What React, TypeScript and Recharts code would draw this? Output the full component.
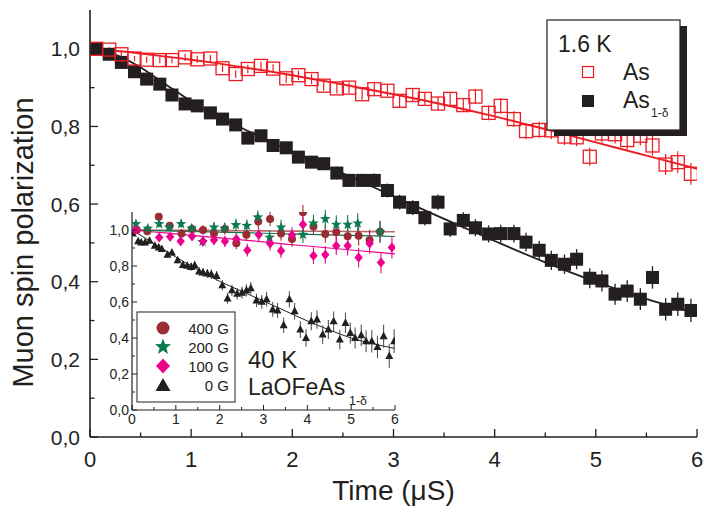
import React from "react";
import { ComposedChart, Line, Scatter, XAxis, YAxis, ErrorBar } from "recharts";

const FONT = '"Liberation Sans", Arial, Helvetica, sans-serif';
const INK = "#231f20";
const RED = "#ed1c24";
const BROWN = "#9b2c34";
const GREEN = "#0b7a4f";
const PINK = "#ec008c";

// main panel, 1.6 K
const TIME = [
  0.06, 0.19, 0.31, 0.44, 0.56, 0.69, 0.81, 0.94, 1.06, 1.19, 1.31, 1.44, 1.56, 1.69, 1.81, 1.94,
  2.06, 2.19, 2.31, 2.44, 2.56, 2.69, 2.81, 2.94, 3.06, 3.19, 3.31, 3.44, 3.56, 3.69, 3.81, 3.94,
  4.06, 4.19, 4.31, 4.44, 4.56, 4.69, 4.81, 4.94, 5.06, 5.19, 5.31, 5.44, 5.56, 5.69, 5.81, 5.94,
];
const AS = [
  1.0, 0.998, 0.986, 0.975, 0.972, 0.971, 0.971, 0.978, 0.973, 0.975, 0.95, 0.935, 0.948, 0.956, 0.949, 0.924,
  0.932, 0.922, 0.905, 0.898, 0.9, 0.883, 0.896, 0.892, 0.866, 0.881, 0.871, 0.859, 0.871, 0.855, 0.877, 0.835,
  0.853, 0.819, 0.788, 0.791, 0.79, 0.774, 0.772, 0.722, 0.782, 0.78, 0.765, 0.776, 0.751, 0.702, 0.708, 0.678,
];
const AS_ERR = [
  0.006, 0.006, 0.007, 0.007, 0.008, 0.008, 0.008, 0.009, 0.009, 0.009, 0.01, 0.01, 0.011, 0.011, 0.011, 0.012,
  0.012, 0.013, 0.013, 0.013, 0.014, 0.014, 0.015, 0.015, 0.016, 0.016, 0.017, 0.017, 0.018, 0.018, 0.019, 0.019,
  0.02, 0.02, 0.021, 0.021, 0.022, 0.022, 0.023, 0.023, 0.024, 0.024, 0.025, 0.025, 0.026, 0.027, 0.028, 0.028,
];
const AS_DEF = [
  1.0, 0.986, 0.965, 0.941, 0.922, 0.909, 0.881, 0.858, 0.853, 0.835, 0.819, 0.804, 0.77, 0.776, 0.751, 0.745,
  0.721, 0.708, 0.704, 0.68, 0.661, 0.661, 0.661, 0.635, 0.605, 0.591, 0.565, 0.605, 0.536, 0.558, 0.539, 0.523,
  0.524, 0.524, 0.502, 0.481, 0.455, 0.445, 0.458, 0.409, 0.402, 0.368, 0.376, 0.355, 0.411, 0.329, 0.342, 0.326,
];
const AS_DEF_ERR = [
  0.007, 0.007, 0.008, 0.008, 0.009, 0.009, 0.01, 0.01, 0.011, 0.011, 0.012, 0.012, 0.013, 0.013, 0.014, 0.014,
  0.015, 0.015, 0.016, 0.016, 0.017, 0.017, 0.018, 0.018, 0.019, 0.019, 0.02, 0.02, 0.021, 0.021, 0.022, 0.022,
  0.023, 0.023, 0.024, 0.024, 0.025, 0.025, 0.026, 0.026, 0.027, 0.027, 0.028, 0.028, 0.029, 0.029, 0.03, 0.03,
];
const FIT_TIME = [0, 0.25, 0.5, 0.75, 1, 1.25, 1.5, 2, 2.5, 3, 3.5, 4, 4.5, 5, 5.5, 6];
const AS_FIT = [1.0, 0.995, 0.988, 0.98, 0.972, 0.963, 0.953, 0.932, 0.908, 0.883, 0.856, 0.826, 0.793, 0.759, 0.725, 0.691];
const AS_DEF_FIT = [1.0, 0.985, 0.952, 0.908, 0.865, 0.828, 0.796, 0.735, 0.679, 0.62, 0.562, 0.505, 0.45, 0.4, 0.356, 0.318];

// inset, 40 K
const T_0G = [
  0.02, 0.14, 0.21, 0.3, 0.4, 0.52, 0.61, 0.68, 0.81, 0.91, 1.04, 1.16, 1.26, 1.35, 1.43, 1.53, 1.62, 1.72,
  1.81, 1.93, 2.06, 2.18, 2.28, 2.4, 2.51, 2.61, 2.71, 2.84, 2.96, 3.07, 3.21, 3.32, 3.46, 3.59, 3.71, 3.84,
  3.97, 4.09, 4.22, 4.35, 4.48, 4.6, 4.74, 4.87, 4.98, 5.09, 5.23, 5.34, 5.47, 5.6, 5.74, 5.87, 5.98,
];
const V_0G = [
  0.981, 0.937, 0.931, 0.931, 0.94, 0.912, 0.903, 0.894, 0.862, 0.875, 0.832, 0.806, 0.801, 0.795, 0.804, 0.769,
  0.764, 0.758, 0.754, 0.745, 0.693, 0.62, 0.665, 0.646, 0.652, 0.665, 0.676, 0.609, 0.601, 0.615, 0.559, 0.553,
  0.471, 0.615, 0.549, 0.447, 0.4, 0.493, 0.503, 0.419, 0.447, 0.493, 0.391, 0.484, 0.428, 0.4, 0.415, 0.382,
  0.382, 0.35, 0.41, 0.3, 0.382,
];
const E_0G = [
  0.012, 0.012, 0.013, 0.013, 0.014, 0.014, 0.015, 0.015, 0.016, 0.016, 0.018, 0.019, 0.02, 0.021, 0.022, 0.023,
  0.024, 0.025, 0.026, 0.027, 0.029, 0.03, 0.031, 0.032, 0.033, 0.034, 0.035, 0.037, 0.038, 0.04, 0.041, 0.042,
  0.043, 0.045, 0.046, 0.047, 0.048, 0.05, 0.051, 0.052, 0.053, 0.054, 0.055, 0.057, 0.058, 0.059, 0.06, 0.061,
  0.062, 0.063, 0.064, 0.065, 0.066,
];
const T_400G = [0.11, 0.35, 0.61, 0.86, 1.13, 1.37, 1.62, 1.87, 2.12, 2.38, 2.61, 2.88, 3.15, 3.4, 3.65, 3.9, 4.14, 4.41, 4.66, 4.92, 5.17, 5.42, 5.66];
const V_400G = [1.0, 0.993, 1.074, 1.024, 0.981, 1.006, 1.0, 0.981, 1.006, 0.926, 0.974, 1.047, 1.061, 0.981, 0.95, 1.099, 1.019, 0.978, 0.987, 0.965, 0.968, 0.944, 0.99];
const E_400G = [0.015, 0.017, 0.019, 0.021, 0.023, 0.025, 0.027, 0.029, 0.031, 0.033, 0.035, 0.037, 0.039, 0.041, 0.043, 0.045, 0.047, 0.049, 0.051, 0.053, 0.055, 0.057, 0.059];
const T_200G = [0.09, 0.36, 0.62, 0.85, 1.12, 1.36, 1.61, 1.87, 2.11, 2.37, 2.62, 2.87, 3.14, 3.4, 3.9, 4.14, 4.41, 4.66, 4.92, 5.15, 5.66];
const V_200G = [1.034, 1.009, 1.034, 1.015, 1.034, 1.009, 0.935, 1.015, 1.009, 1.028, 1.024, 1.071, 0.959, 1.015, 0.974, 1.037, 1.061, 1.03, 1.03, 1.037, 0.991];
const E_200G = [0.015, 0.017, 0.019, 0.021, 0.023, 0.025, 0.027, 0.029, 0.031, 0.033, 0.035, 0.037, 0.04, 0.042, 0.046, 0.048, 0.05, 0.052, 0.054, 0.056, 0.06];
const T_100G = [0.08, 0.62, 0.87, 1.11, 1.37, 1.62, 1.87, 2.12, 2.38, 2.63, 2.89, 3.15, 3.4, 3.65, 3.9, 4.14, 4.41, 4.66, 4.92, 5.17, 5.42, 5.68, 5.93];
const V_100G = [1.0, 0.959, 0.963, 0.937, 0.965, 0.937, 0.944, 0.937, 0.95, 0.888, 0.974, 0.925, 0.885, 0.972, 1.03, 0.857, 0.862, 0.912, 0.912, 0.847, 0.925, 0.819, 0.903];
const E_100G = [0.015, 0.019, 0.021, 0.023, 0.025, 0.027, 0.029, 0.031, 0.033, 0.035, 0.037, 0.039, 0.041, 0.043, 0.045, 0.047, 0.049, 0.051, 0.053, 0.055, 0.057, 0.059, 0.061];

const INSET_FIT_TIME = [0, 0.5, 1, 1.5, 2, 2.5, 3, 3.5, 4, 4.5, 5, 5.5, 6];
const FIT_0G = [1.0, 0.925, 0.85, 0.78, 0.715, 0.66, 0.605, 0.55, 0.495, 0.445, 0.4, 0.368, 0.342];
const FIT_100G = [1.0, 0.989, 0.978, 0.967, 0.956, 0.945, 0.934, 0.922, 0.911, 0.9, 0.889, 0.878, 0.867];
const FIT_200G = [1.0, 0.997, 0.994, 0.991, 0.988, 0.985, 0.982, 0.979, 0.976, 0.973, 0.97, 0.967, 0.964];
const FIT_400G = [1.0, 0.999, 0.998, 0.998, 0.997, 0.996, 0.995, 0.994, 0.993, 0.993, 0.992, 0.991, 0.99];

const X_TICKS = [0, 0.5, 1, 1.5, 2, 2.5, 3, 3.5, 4, 4.5, 5, 5.5, 6];
const Y_TICKS = [0, 0.1, 0.2, 0.3, 0.4, 0.5, 0.6, 0.7, 0.8, 0.9, 1.0];

const pts = (t: number[], v: number[], e?: number[]) =>
  t.map((x, i) => ({ t: x, v: v[i], e: e ? e[i] : 0 }));

const comma = (v: number) => v.toFixed(1).replace(".", ",");
const whole = (v: number) => String(Math.round(v));

type Side = "bottom" | "top" | "left" | "right";
type TickOpts = { step: number; major: number; minor: number; gap?: number; size?: number; fmt?: (v: number) => string; width?: number };

// inward ticks, labels only on the major ones
const makeTick = (side: Side, o: TickOpts) => (props: any) => {
  const { x, y, payload } = props;
  const v = payload.value as number;
  const major = Math.abs(v / o.step - Math.round(v / o.step)) < 1e-6;
  const len = major ? o.major : o.minor;
  const dir = side === "bottom" || side === "right" ? -1 : 1;
  const vertical = side === "bottom" || side === "top";
  const sw = o.width ?? 1.3;
  return (
    <g>
      {vertical ? (
        <line x1={x} x2={x} y1={y} y2={y + dir * len} stroke={INK} strokeWidth={sw} />
      ) : (
        <line x1={x} x2={x + dir * len} y1={y} y2={y} stroke={INK} strokeWidth={sw} />
      )}
      {major && o.fmt && side === "bottom" && (
        <text x={x} y={y + (o.gap ?? 0)} textAnchor="middle" fontSize={o.size} fontFamily={FONT} fill={INK}>
          {o.fmt(v)}
        </text>
      )}
      {major && o.fmt && side === "left" && (
        <text x={x - (o.gap ?? 0)} y={y + (o.size ?? 12) * 0.36} textAnchor="end" fontSize={o.size} fontFamily={FONT} fill={INK}>
          {o.fmt(v)}
        </text>
      )}
    </g>
  );
};

const starPath = (cx: number, cy: number, r: number) => {
  let d = "";
  for (let i = 0; i < 10; i++) {
    const a = (-90 + i * 36) * (Math.PI / 180);
    const rr = i % 2 === 0 ? r : r * 0.42;
    d += `${i === 0 ? "M" : "L"}${(cx + rr * Math.cos(a)).toFixed(2)},${(cy + rr * Math.sin(a)).toFixed(2)}`;
  }
  return d + "Z";
};

const OpenSquare = (p: any) => (
  <rect x={p.cx - 6.5} y={p.cy - 6.5} width={13} height={13} fill="none" stroke={RED} strokeWidth={1.3} />
);
const FilledSquare = (p: any) => <rect x={p.cx - 6.5} y={p.cy - 6.5} width={13} height={13} fill={INK} />;
const Dot = (p: any) => <circle cx={p.cx} cy={p.cy} r={4} fill={BROWN} />;
const Star = (p: any) => <path d={starPath(p.cx, p.cy, 5.6)} fill={GREEN} />;
const Diamond = (p: any) => (
  <path d={`M${p.cx},${p.cy - 5}L${p.cx + 4.2},${p.cy}L${p.cx},${p.cy + 5}L${p.cx - 4.2},${p.cy}Z`} fill={PINK} />
);
const Triangle = (p: any) => (
  <path d={`M${p.cx},${p.cy - 4.6}L${p.cx + 4},${p.cy + 3}L${p.cx - 4},${p.cy + 3}Z`} fill={INK} />
);

const axisLine = { stroke: INK, strokeWidth: 1.6 };
const insetLine = { stroke: INK, strokeWidth: 1.2 };

const MainChart = () => (
  <ComposedChart width={704} height={520} margin={{ top: 10, right: 7, bottom: 0, left: 30 }}>
    <XAxis
      dataKey="t" type="number" domain={[0, 6]} ticks={X_TICKS} interval={0} allowDataOverflow
      height={83} tickSize={0} tickMargin={0} tickLine={false} axisLine={axisLine}
      tick={makeTick("bottom", { step: 1, major: 8, minor: 4.5, gap: 30, size: 22, fmt: whole })}
      label={{ value: "Time (μS)", position: "insideBottom", offset: 20, fontSize: 28, fill: INK, fontFamily: FONT }}
    />
    <XAxis
      xAxisId="top" orientation="top" dataKey="t" type="number" domain={[0, 6]} ticks={X_TICKS} interval={0}
      allowDataOverflow height={0} tickSize={0} tickMargin={0} tickLine={false} axisLine={axisLine}
      tick={makeTick("top", { step: 1, major: 8, minor: 4.5 })}
    />
    <YAxis
      type="number" domain={[0, 1.1]} ticks={Y_TICKS} interval={0} allowDataOverflow width={60}
      tickSize={0} tickMargin={0} tickLine={false} axisLine={axisLine}
      tick={makeTick("left", { step: 0.2, major: 8, minor: 4.5, gap: 10, size: 21, fmt: comma })}
      label={{
        value: "Muon spin polarization", angle: -90, position: "insideLeft", offset: -7, dy: 19,
        fontSize: 29, fill: INK, fontFamily: FONT, style: { textAnchor: "middle" },
      }}
    />
    <YAxis
      yAxisId="right" orientation="right" type="number" domain={[0, 1.1]} ticks={Y_TICKS} interval={0}
      allowDataOverflow width={0} tickSize={0} tickMargin={0} tickLine={false} axisLine={axisLine}
      tick={makeTick("right", { step: 0.2, major: 8, minor: 4.5 })}
    />
    <Line data={pts(FIT_TIME, AS_DEF_FIT)} dataKey="v" type="monotone" stroke={INK} strokeWidth={1.8} dot={false} isAnimationActive={false} />
    <Scatter data={pts(TIME, AS_DEF, AS_DEF_ERR)} dataKey="v" shape={FilledSquare} isAnimationActive={false}>
      <ErrorBar dataKey="e" direction="y" width={0} stroke={INK} strokeWidth={1.3} />
    </Scatter>
    <Scatter data={pts(TIME, AS, AS_ERR)} dataKey="v" shape={OpenSquare} isAnimationActive={false}>
      <ErrorBar dataKey="e" direction="y" width={0} stroke={RED} strokeWidth={1.2} />
    </Scatter>
    <Line data={pts(FIT_TIME, AS_FIT)} dataKey="v" type="monotone" stroke={RED} strokeWidth={1.9} dot={false} isAnimationActive={false} />
  </ComposedChart>
);

const InsetChart = () => (
  <ComposedChart width={300} height={222} margin={{ top: 7, right: 5, bottom: 0, left: 0 }}>
    <XAxis
      dataKey="t" type="number" domain={[0, 6]} ticks={X_TICKS} interval={0} allowDataOverflow
      height={17} tickSize={0} tickMargin={0} tickLine={false} axisLine={insetLine}
      tick={makeTick("bottom", { step: 1, major: 5, minor: 3, gap: 14, size: 14, fmt: whole, width: 1 })}
    />
    <XAxis
      xAxisId="top" orientation="top" dataKey="t" type="number" domain={[0, 6]} ticks={X_TICKS} interval={0}
      allowDataOverflow height={0} tickSize={0} tickMargin={0} tickLine={false} axisLine={insetLine}
      tick={makeTick("top", { step: 1, major: 5, minor: 3, width: 1 })}
    />
    <YAxis
      type="number" domain={[0, 1.1]} ticks={Y_TICKS} interval={0} allowDataOverflow width={32}
      tickSize={0} tickMargin={0} tickLine={false} axisLine={insetLine}
      tick={makeTick("left", { step: 0.2, major: 5, minor: 3, gap: 3, size: 14, fmt: comma, width: 1 })}
    />
    <YAxis
      yAxisId="right" orientation="right" type="number" domain={[0, 1.1]} ticks={Y_TICKS} interval={0}
      allowDataOverflow width={0} tickSize={0} tickMargin={0} tickLine={false} axisLine={insetLine}
      tick={makeTick("right", { step: 0.2, major: 5, minor: 3, width: 1 })}
    />
    <Line data={pts(INSET_FIT_TIME, FIT_400G)} dataKey="v" type="monotone" stroke="#b8676b" strokeWidth={1.6} dot={false} isAnimationActive={false} />
    <Line data={pts(INSET_FIT_TIME, FIT_200G)} dataKey="v" type="monotone" stroke={GREEN} strokeWidth={1.2} dot={false} isAnimationActive={false} />
    <Line data={pts(INSET_FIT_TIME, FIT_100G)} dataKey="v" type="monotone" stroke={PINK} strokeWidth={1.2} dot={false} isAnimationActive={false} />
    <Line data={pts(INSET_FIT_TIME, FIT_0G)} dataKey="v" type="monotone" stroke={INK} strokeWidth={1} dot={false} isAnimationActive={false} />
    <Scatter data={pts(T_0G, V_0G, E_0G)} dataKey="v" shape={Triangle} isAnimationActive={false}>
      <ErrorBar dataKey="e" direction="y" width={0} stroke="#555" strokeWidth={1.1} />
    </Scatter>
    <Scatter data={pts(T_400G, V_400G, E_400G)} dataKey="v" shape={Dot} isAnimationActive={false}>
      <ErrorBar dataKey="e" direction="y" width={0} stroke={BROWN} strokeWidth={1.1} />
    </Scatter>
    <Scatter data={pts(T_200G, V_200G, E_200G)} dataKey="v" shape={Star} isAnimationActive={false}>
      <ErrorBar dataKey="e" direction="y" width={0} stroke={GREEN} strokeWidth={1.1} />
    </Scatter>
    <Scatter data={pts(T_100G, V_100G, E_100G)} dataKey="v" shape={Diamond} isAnimationActive={false}>
      <ErrorBar dataKey="e" direction="y" width={0} stroke={PINK} strokeWidth={1.1} />
    </Scatter>
  </ComposedChart>
);

const INSET_LEGEND = [
  { label: "400 G", kind: "dot" },
  { label: "200 G", kind: "star" },
  { label: "100 G", kind: "diamond" },
  { label: "0 G", kind: "triangle" },
];

const legendMarker = (kind: string, cx: number, cy: number) => {
  if (kind === "dot") return <circle cx={cx} cy={cy} r={6.5} fill={BROWN} />;
  if (kind === "star") return <path d={starPath(cx, cy, 8.5)} fill={GREEN} />;
  if (kind === "diamond") return <path d={`M${cx},${cy - 7.5}L${cx + 7},${cy}L${cx},${cy + 7.5}L${cx - 7},${cy}Z`} fill={PINK} />;
  return <path d={`M${cx},${cy - 7}L${cx + 7.5},${cy + 6}L${cx - 7.5},${cy + 6}Z`} fill={INK} />;
};

const Legends = () => (
  <svg width={704} height={520} style={{ position: "absolute", left: 0, top: 0, pointerEvents: "none" }} fontFamily={FONT}>
    {/* 1.6 K legend with drop shadow */}
    <rect x={554} y={26} width={133} height={110} fill={INK} />
    <rect x={547} y={20} width={133} height={110} fill="#fff" stroke={INK} strokeWidth={1.2} />
    <text x={558} y={52} fontSize={23} fill={INK}>1.6 K</text>
    <rect x={582.5} y={66.5} width={11} height={11} fill="#fff" stroke={RED} strokeWidth={1.2} />
    <text x={623} y={80} fontSize={23} fill={INK}>As</text>
    <rect x={582} y={95} width={12} height={12} fill={INK} />
    <text x={623} y={108} fontSize={23} fill={INK}>As</text>
    <text x={651} y={117} fontSize={12} fill={INK}>1-δ</text>

    {/* inset legend */}
    <rect x={137} y={312} width={98} height={90} fill="#fff" stroke={INK} strokeWidth={1} />
    {INSET_LEGEND.map((d, i) => {
      const cy = 328 + i * 19;
      return (
        <g key={d.label}>
          {legendMarker(d.kind, 163, cy)}
          <text x={229} y={cy + 5.5} fontSize={15} textAnchor="end" fill={INK}>{d.label}</text>
        </g>
      );
    })}
    <text x={248} y={368} fontSize={24} fill={INK}>40 K</text>
    <text x={248} y={395} fontSize={23} fill={INK}>LaOFeAs</text>
    <text x={349} y={405} fontSize={12.5} fill={INK}>1-δ</text>
  </svg>
);

export default function App() {
  return (
    <div style={{ position: "absolute", left: 0, top: 0, width: 704, height: 520, background: "#fff", fontFamily: FONT }}>
      <MainChart />
      <div style={{ position: "absolute", left: 100, top: 205 }}>
        <InsetChart />
      </div>
      <Legends />
    </div>
  );
}
